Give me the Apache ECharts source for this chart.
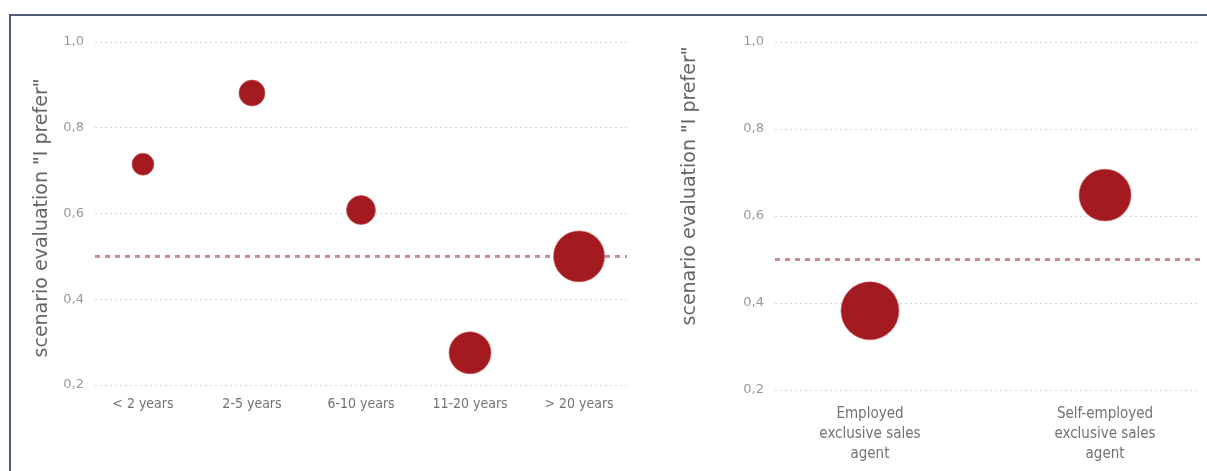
<!DOCTYPE html>
<html>
<head>
<meta charset="utf-8">
<script src="https://cdn.jsdelivr.net/npm/echarts@6/dist/echarts.min.js"></script>
<style>
  html, body { margin: 0; padding: 0; background: #fff; }
  #chart { width: 1207px; height: 471px; }
</style>
</head>
<body>
<div id="chart"></div>
<script>
// Preference score by length of service and by agent type
const yearCategories = ['< 2 years', '2-5 years', '6-10 years', '11-20 years', '> 20 years'];
const yearScores = [0.715, 0.881, 0.608, 0.275, 0.50];
const yearWeights = [4.8, 6.8, 8.4, 17.6, 26.0];

const agentCategories = ['Employed\nexclusive sales\nagent', 'Self-employed\nexclusive sales\nagent'];
const agentScores = [0.382, 0.648];
const agentWeights = [33.6, 27.0];

const yTicks = [0.2, 0.4, 0.6, 0.8, 1.0];
const neutralScore = 0.5;
const yTitle = 'scenario evaluation "I prefer"';

const bubbleColor = '#a31b20';
const refColor = '#c98a8e';
const labelFont = '"DejaVu Sans Condensed", "DejaVu Sans", sans-serif';
const tickFont = '"DejaVu Sans", sans-serif';
const titleFont = '"DejaVu Sans", sans-serif';

const fmt = v => v.toFixed(1).replace('.', ',');
const sizeOf = w => 10 * Math.sqrt(w);

function refYAxis(gridIndex) {
  return {
    type: 'value', gridIndex, min: yTicks[0], max: yTicks[yTicks.length - 1], interval: 0.2,
    axisLine: { show: false }, axisTick: { show: false },
    axisLabel: { formatter: fmt, color: '#999', fontSize: 13, fontFamily: tickFont, margin: 11 },
    splitLine: { lineStyle: { type: [2, 3], color: '#d6d6d6', width: 1 } }
  };
}
function dataYAxis(gridIndex) {
  return {
    type: 'value', gridIndex, min: yTicks[0], max: yTicks[yTicks.length - 1], interval: 0.2,
    show: false, splitLine: { show: false }
  };
}
function refXAxis(gridIndex) {
  return { type: 'value', gridIndex, min: 0, max: 1, show: false, splitLine: { show: false } };
}
// Category positions on a value axis: category k sits at x = k, padded by `pad` on each side
function catXAxis(gridIndex, cats, pad, fontSize, lineHeight, margin) {
  const idx = cats.map((c, k) => k);
  return {
    type: 'value', gridIndex, min: -pad, max: cats.length - 1 + pad,
    axisLine: { show: false }, axisTick: { show: false },
    axisLabel: {
      customValues: idx, formatter: v => cats[Math.round(v)],
      color: '#727272', fontSize, lineHeight, fontFamily: labelFont, margin
    },
    splitLine: { show: false }
  };
}
function refLine(i) {
  return {
    type: 'line', xAxisIndex: i, yAxisIndex: i, symbol: 'none', silent: true,
    data: [[0, neutralScore], [1, neutralScore]],
    lineStyle: { color: refColor, width: 3, type: [5, 5] }, z: 1
  };
}
function bubbles(i, scores, weights) {
  return {
    type: 'scatter', xAxisIndex: i, yAxisIndex: i,
    data: scores.map((v, k) => [k, v, weights[k]]),
    symbolSize: d => sizeOf(d[2]),
    itemStyle: { color: bubbleColor, opacity: 1, borderColor: 'rgba(200,90,90,0.6)', borderWidth: 1 },
    z: 3
  };
}

const chart = echarts.init(document.getElementById('chart'));
chart.setOption({
  animation: false,
  backgroundColor: '#ffffff',
  grid: [
    { left: 95, width: 532, top: 42, height: 343 },
    { left: 95, width: 532, top: 42, height: 343 },
    { left: 775, width: 425, top: 42, height: 348 },
    { left: 775, width: 425, top: 42, height: 348 }
  ],
  xAxis: [
    refXAxis(0),
    catXAxis(1, yearCategories, 0.44, 14, 16, 11),
    refXAxis(2),
    catXAxis(3, agentCategories, 0.404, 15, 20, 14)
  ],
  yAxis: [refYAxis(0), dataYAxis(1), refYAxis(2), dataYAxis(3)],
  series: [
    refLine(0),
    bubbles(1, yearScores, yearWeights),
    refLine(2),
    bubbles(3, agentScores, agentWeights)
  ],
  graphic: [
    { type: 'rect', shape: { x: 9, y: 14, width: 1200, height: 2 }, style: { fill: '#4f5e78' } },
    { type: 'rect', shape: { x: 9, y: 14, width: 2, height: 460 }, style: { fill: '#4f5e78' } },
    {
      type: 'text', x: 42, y: 218, rotation: Math.PI / 2,
      style: { text: yTitle, fill: '#666', font: '19px ' + titleFont, align: 'center', verticalAlign: 'middle' }
    },
    {
      type: 'text', x: 690, y: 186, rotation: Math.PI / 2,
      style: { text: yTitle, fill: '#666', font: '19px ' + titleFont, align: 'center', verticalAlign: 'middle' }
    }
  ]
});
</script>
</body>
</html>
